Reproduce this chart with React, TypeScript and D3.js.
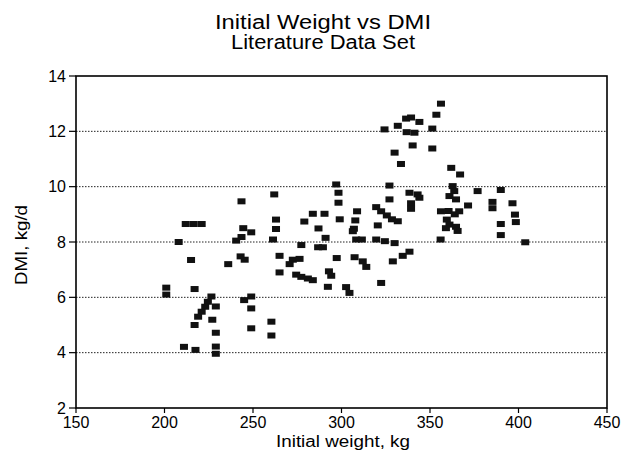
import React from 'react';
import * as d3 from 'd3';

// initial weight (kg) and DMI (kg/d)
const weights = [
  201, 201, 208, 212, 216.5, 221, 215, 217, 226.5, 224.5, 223, 221, 219, 217, 229, 227, 229, 211, 217.5, 229,
  229, 236, 243.5, 244.5, 249, 243.5, 240.5, 243, 245.3, 249, 245, 249, 249, 260.4, 260.4, 262, 263, 263, 261.3, 265,
  265, 272.5, 276.3, 270.7, 274.4, 277.3, 281, 283.8, 279, 283.8, 290.4, 287, 291, 277.3, 286.8, 289.5, 292.9, 294.2, 297.3, 292.3,
  297, 298.3, 298.3, 299, 302.6, 304.5, 308.8, 307.8, 307, 306.4, 308.3, 311.5, 307.4, 312, 314, 319.6, 322.4, 325.6, 328.5, 331.8,
  320.5, 319.6, 324.5, 330, 322.4, 329, 334.6, 338.4, 324.3, 330, 333.6, 327.1, 327.1, 331.8, 336.5, 339.3, 344, 336.8, 341.2, 351.3,
  353.6, 356.2, 340.2, 351.3, 338.4, 343, 344, 339.3, 339.3, 362, 367, 362.8, 363.7, 361, 364.7, 356.2, 360.5, 364, 366.5, 371.5,
  359.5, 361, 364.7, 359, 365.6, 356, 376.9, 390, 385.3, 385.3, 396.6, 398, 398.5, 390, 390, 403.8,
];
const dmi = [
  6.35, 6.1, 8.0, 8.65, 8.65, 8.65, 7.35, 6.3, 6.03, 5.84, 5.66, 5.48, 5.3, 5.0, 5.67, 5.19, 4.72, 4.21, 4.1, 4.22,
  3.96, 7.2, 9.47, 8.5, 8.35, 8.18, 8.05, 7.48, 7.36, 6.03, 5.9, 5.6, 4.88, 5.12, 4.62, 9.72, 8.81, 8.47, 8.09, 7.5,
  6.9, 7.36, 7.39, 7.2, 6.82, 6.74, 6.68, 6.62, 8.74, 9.02, 9.02, 8.49, 8.15, 7.89, 7.81, 7.81, 6.94, 6.78, 7.42, 6.38,
  10.08, 9.78, 9.42, 8.82, 6.37, 6.16, 9.11, 8.78, 8.48, 8.39, 8.09, 8.09, 7.45, 7.3, 7.1, 9.26, 9.11, 8.96, 8.82, 8.75,
  8.6, 8.09, 8.03, 7.96, 6.52, 7.3, 7.5, 7.65, 12.07, 11.23, 10.82, 10.04, 9.54, 12.2, 12.46, 12.5, 12.34, 11.97, 11.95, 12.1,
  12.6, 13.0, 11.49, 11.38, 9.78, 9.72, 9.6, 9.4, 9.2, 10.68, 10.44, 10.02, 9.84, 9.66, 9.54, 9.11, 9.12, 9.0, 9.11, 9.32,
  8.81, 8.63, 8.55, 8.5, 8.4, 8.09, 9.84, 9.88, 9.45, 9.22, 9.4, 8.99, 8.72, 8.65, 8.25, 7.99,
];

const xTicks = [150, 200, 250, 300, 350, 400, 450];
const yTicks = [2, 4, 6, 8, 10, 12, 14];
const gridValues = [4, 6, 8, 10, 12];

const W = 625;
const H = 457;
const margin = { top: 76, right: 18, bottom: 49, left: 76 };
const font = 'Liberation Sans, Arial, Helvetica, sans-serif';

export default function App() {
  const x = d3.scaleLinear().domain([150, 450]).range([margin.left, W - margin.right]);
  const y = d3.scaleLinear().domain([2, 14]).range([H - margin.bottom, margin.top]);
  const points = weights.map((w, i) => ({ w, d: dmi[i] }));
  const x0 = x(150), x1 = x(450), y0 = y(2), y1 = y(14);

  return (
    <div style={{ position: 'absolute', left: 0, top: 0 }}>
      <svg width={W} height={H} style={{ display: 'block', background: '#fff' }} fontFamily={font}>
        <text x={323} y={29} fontSize={20} textAnchor="middle" textLength={216} lengthAdjust="spacingAndGlyphs">
          Initial Weight vs DMI
        </text>
        <text x={323} y={49} fontSize={20} textAnchor="middle" textLength={184} lengthAdjust="spacingAndGlyphs">
          Literature Data Set
        </text>

        {gridValues.map(v => (
          <line key={v} x1={x0} x2={x1} y1={y(v)} y2={y(v)} stroke="#222" strokeWidth={1} strokeDasharray="1.5,1.5" />
        ))}

        {points.map((p, i) => (
          <rect key={i} x={x(p.w) - 4} y={y(p.d) - 3} width={8} height={6} fill="#111" />
        ))}

        <rect x={x0} y={y1} width={x1 - x0} height={y0 - y1} fill="none" stroke="#000" strokeWidth={1.6} />

        {yTicks.map(v => (
          <g key={v}>
            <line x1={x0 - 7} x2={x0} y1={y(v)} y2={y(v)} stroke="#000" strokeWidth={1.2} />
            <text x={x0 - 10} y={y(v) + 5.5} fontSize={16} textAnchor="end">{v}</text>
          </g>
        ))}
        {xTicks.map(v => (
          <g key={v}>
            <line x1={x(v)} x2={x(v)} y1={y0} y2={y0 + 5} stroke="#000" strokeWidth={1.2} />
            <text x={x(v)} y={y0 + 20} fontSize={16} textAnchor="middle">{v}</text>
          </g>
        ))}

        <text x={343} y={447} fontSize={16} textAnchor="middle" textLength={134} lengthAdjust="spacingAndGlyphs">
          Initial weight, kg
        </text>
        <text transform="translate(27,245) rotate(-90)" fontSize={16} textAnchor="middle" textLength={80} lengthAdjust="spacingAndGlyphs">
          DMI, kg/d
        </text>
      </svg>
    </div>
  );
}
